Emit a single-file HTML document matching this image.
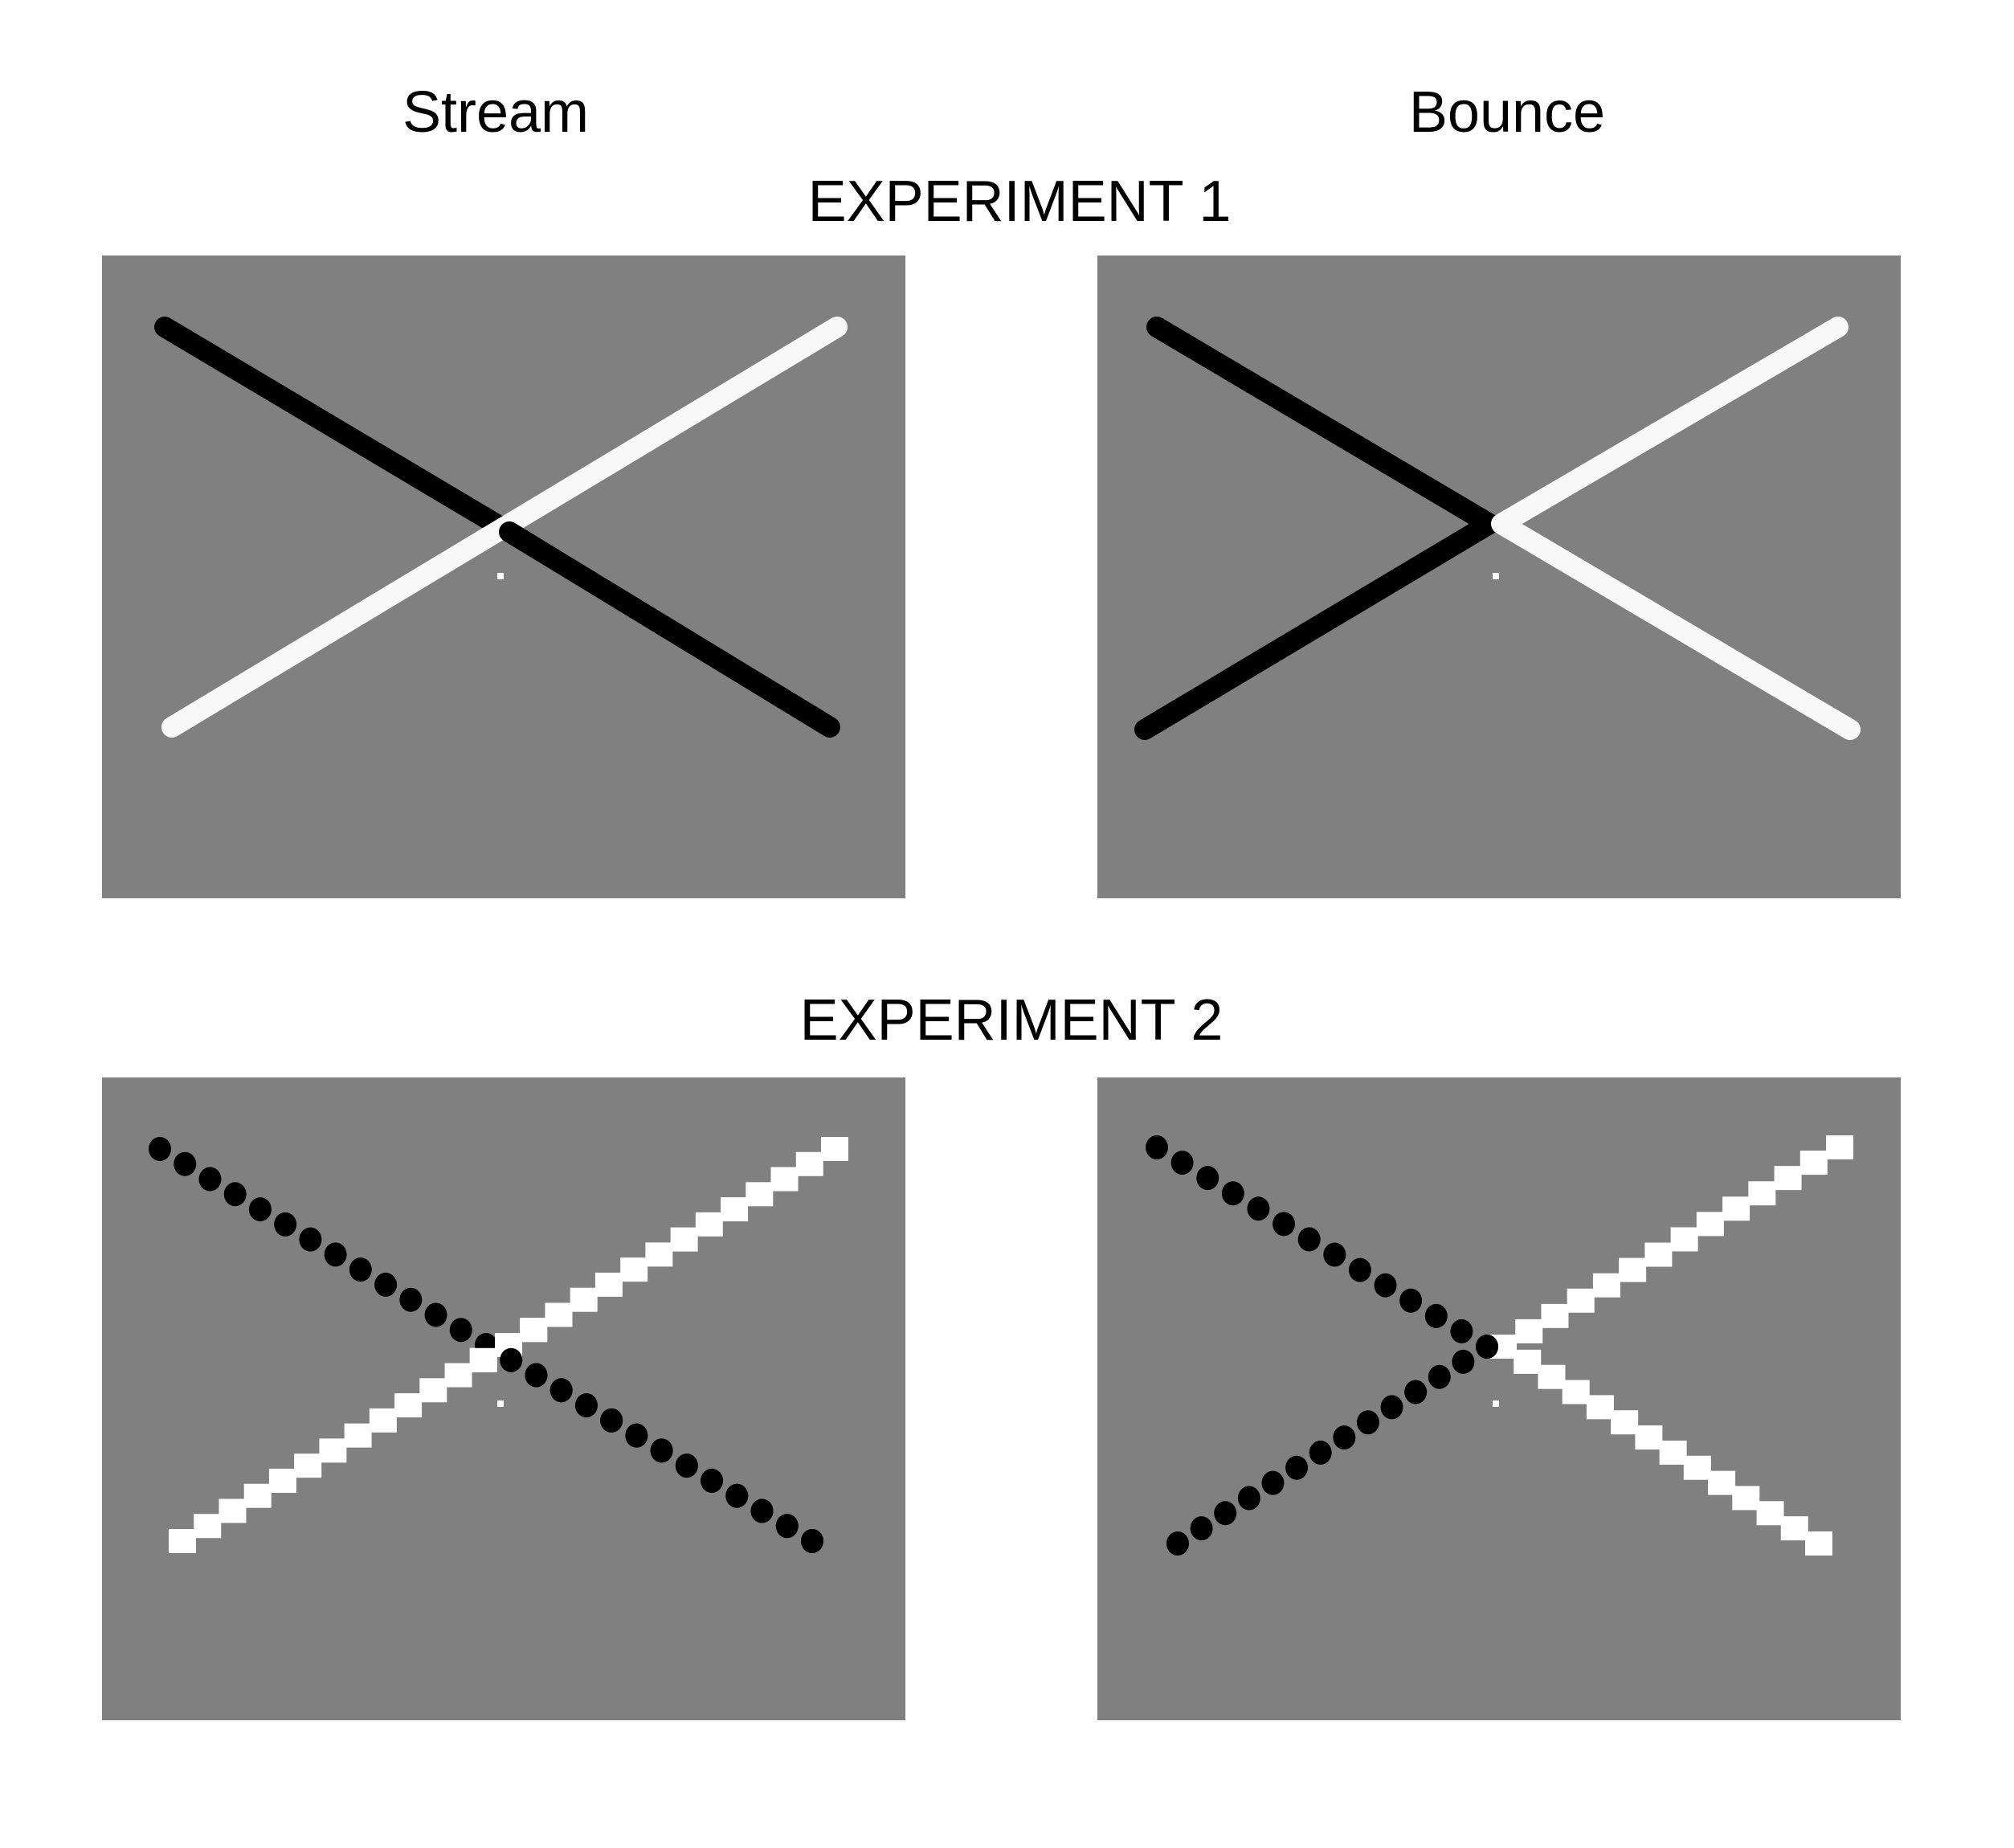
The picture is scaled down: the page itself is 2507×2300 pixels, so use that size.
<!DOCTYPE html>
<html><head><meta charset="utf-8"><style>
html,body{margin:0;padding:0;background:#fff;}
svg{display:block;}
text{font-family:"Liberation Sans",Arial,sans-serif;fill:#000;}
</style></head><body>
<svg id="s" width="2507" height="2300" viewBox="0 0 2507 2300" xmlns="http://www.w3.org/2000/svg">
<text x="617" y="164" font-size="72" text-anchor="middle">Stream</text>
<text x="1876" y="164" font-size="72" text-anchor="middle">Bounce</text>
<text x="1269" y="275" font-size="72" text-anchor="middle">EXPERIMENT 1</text>
<text x="1259" y="1294" font-size="72" text-anchor="middle">EXPERIMENT 2</text>
<rect x="127" y="318" width="1000" height="800" fill="#808080"/>
<rect x="1366" y="318" width="1000" height="800" fill="#808080"/>
<rect x="127" y="1341" width="1000" height="800" fill="#808080"/>
<rect x="1366" y="1341" width="1000" height="800" fill="#808080"/>
<g transform="translate(127,318)" stroke-linecap="round" fill="none" stroke-width="26">
<line x1="78" y1="89" x2="495" y2="337" stroke="#000"/>
<line x1="87" y1="587" x2="915" y2="89" stroke="#f8f8f8"/>
<line x1="507" y1="344" x2="906" y2="587" stroke="#000"/>
<rect x="492" y="395" width="8" height="8" fill="#fff" stroke="none"/>
</g>
<g transform="translate(1366,318)" stroke-linecap="round" stroke-linejoin="round" fill="none" stroke-width="26">
<polyline points="74,89 488,334 59,590" stroke="#000"/>
<polyline points="922,89 503,334 937,590" stroke="#f8f8f8"/>
<rect x="492" y="395" width="8" height="8" fill="#fff" stroke="none"/>
</g>
<g id="e2s" transform="translate(127,1341)"><rect x="492" y="402" width="8" height="8" fill="#fff"/></g>
<g id="e2b" transform="translate(1366,1341)"><rect x="492" y="402" width="8" height="8" fill="#fff"/></g>
</svg>
<script>
var NS="http://www.w3.org/2000/svg";
function el(g,t,a){var e=document.createElementNS(NS,t);for(var k in a)e.setAttribute(k,a[k]);g.appendChild(e);}
function sq(g,x,y){el(g,"rect",{x:x-17,y:y-15,width:34,height:30,fill:"#fff"});}
function dot(g,x,y){el(g,"ellipse",{cx:x,cy:y,rx:14,ry:15,fill:"#000"});}
var n=27,g=document.getElementById("e2s");
for(var i=0;i<n;i++){var t=i/(n-1);sq(g,100+(912-100)*t,577+(89-577)*t);}
for(var i=0;i<n;i++){var t=i/(n-1);dot(g,72+(884-72)*t,89+(577-89)*t);}
for(var i=12;i<15;i++){var t=i/(n-1);sq(g,100+(912-100)*t,577+(89-577)*t);}
for(var i=14;i<n;i++){var t=i/(n-1);dot(g,72+(884-72)*t,89+(577-89)*t);}
var b=document.getElementById("e2b");
var h=14;
for(var i=0;i<h;i++){var t=i/(h-1);
 sq(b,924+(505-924)*t,87+(335-87)*t);sq(b,898+(505-898)*t,580+(335-580)*t);
 dot(b,74+(485-74)*t,87+(335-87)*t);dot(b,100+(485-100)*t,580+(335-580)*t);}
</script>
</body></html>
